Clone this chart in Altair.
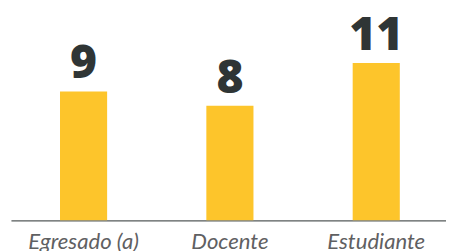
import altair as alt
import pandas as pd

categories = ["Egresado (a)", "Docente", "Estudiante"]
values = [9, 8, 11]

df = pd.DataFrame({"cat": categories, "val": values})

x = alt.X("cat:N", sort=categories, title=None,
          scale=alt.Scale(paddingInner=0.678, paddingOuter=0.3255, align=0.515),
          axis=alt.Axis(labelAngle=0, ticks=False, domain=True, domainColor="#555a5a",
                        domainWidth=1.2, labelFont="Lato", labelFontStyle="italic",
                        labelFontSize=22.5, labelColor="#5f6062", labelPadding=11, grid=False))
y = alt.Y("val:Q", title=None, scale=alt.Scale(domain=[0, 14], nice=False),
          axis=None)

bars = alt.Chart(df).mark_bar(color="#fdc52b").encode(x=x, y=y)
text = alt.Chart(df).mark_text(baseline="alphabetic", dy=-13.5, font="Open Sans",
                               fontWeight=800, fontSize=47, color="#2f3535").encode(
    x=alt.X("cat:N", sort=categories), y="val:Q", text="val:Q")

chart = (bars + text).properties(
    width=443, height=204,
    autosize=alt.AutoSizeParams(type="none"),
    padding={"left": 3, "top": 10, "right": 0, "bottom": 29},
).configure_view(stroke=None)

chart.save("out.html", embed_options={"renderer": "svg", "actions": False})
